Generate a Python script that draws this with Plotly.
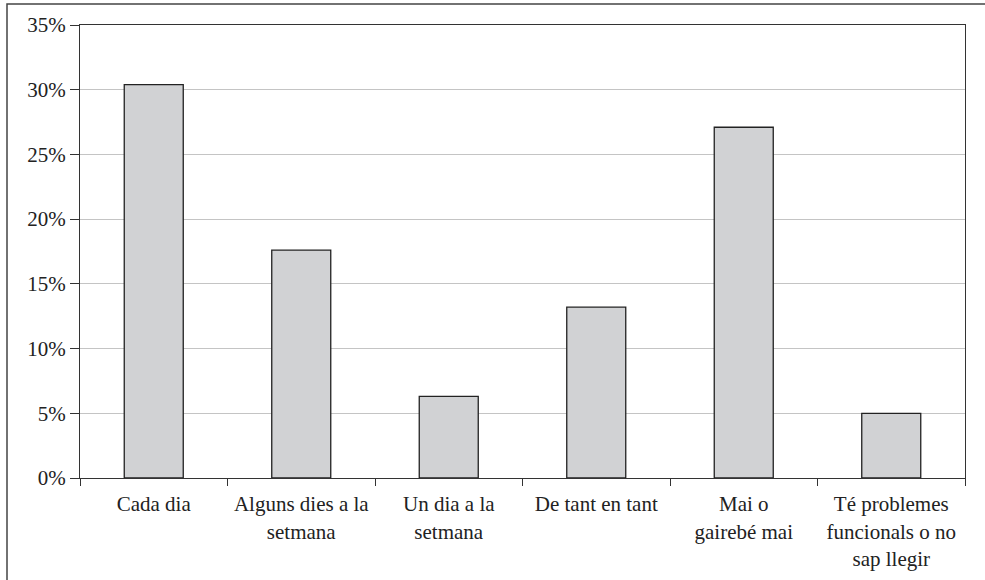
import plotly.graph_objects as go

categories = ["Cada dia", "Alguns dies a la<br>setmana", "Un dia a la<br>setmana",
              "De tant en tant", "Mai o<br>gairebé mai",
              "Té problemes<br>funcionals o no<br>sap llegir"]
values = [30.4, 17.6, 6.3, 13.2, 27.1, 5.0]
y_ticks = [0, 5, 10, 15, 20, 25, 30, 35]
y_tick_labels = ["0%", "5%", "10%", "15%", "20%", "25%", "30%", "35%"]

W, H = 985, 580
L, R, T, B = 80, 20, 25, 102
pw, ph = W - L - R, H - T - B
FONT = "Times New Roman, Liberation Serif, Times, serif"

fig = go.Figure(go.Bar(
    x=categories, y=values,
    marker=dict(color="#d1d2d4", line=dict(color="#222222", width=1.3)),
))

fig.update_layout(
    width=W, height=H,
    margin=dict(l=L, r=R, t=T, b=B, autoexpand=False),
    paper_bgcolor="white", plot_bgcolor="white",
    bargap=0.6, showlegend=False,
    font=dict(family=FONT, size=21, color="#222222"),
    shapes=[dict(type="rect", xref="paper", yref="paper",
                 x0=(7 - L) / pw, x1=(W + 10 - L) / pw,
                 y0=-(H + 10 - T - ph) / ph, y1=(ph + T - 4) / ph,
                 line=dict(color="#444444", width=1.5), layer="below")],
)
fig.update_xaxes(
    showline=True, linecolor="#333333", linewidth=1.3, mirror=True,
    ticks="outside", tickson="boundaries", ticklen=7, tickcolor="#333333",
    tickwidth=1.3, showgrid=False, ticklabelstandoff=7, automargin=False,
    tickfont=dict(family=FONT, size=21, color="#222222"),
)
fig.update_yaxes(
    range=[0, 35], tickvals=y_ticks, ticktext=y_tick_labels,
    showline=True, linecolor="#333333", linewidth=1.3, mirror=True,
    ticks="outside", ticklen=9, tickcolor="#333333", tickwidth=1.3,
    showgrid=True, gridcolor="#c4c4c4", gridwidth=1, zeroline=False,
    automargin=False,
    tickfont=dict(family=FONT, size=21, color="#222222"),
)

fig.write_html("out.html", config={"displayModeBar": False},
               post_script="document.body.style.margin='0';")
